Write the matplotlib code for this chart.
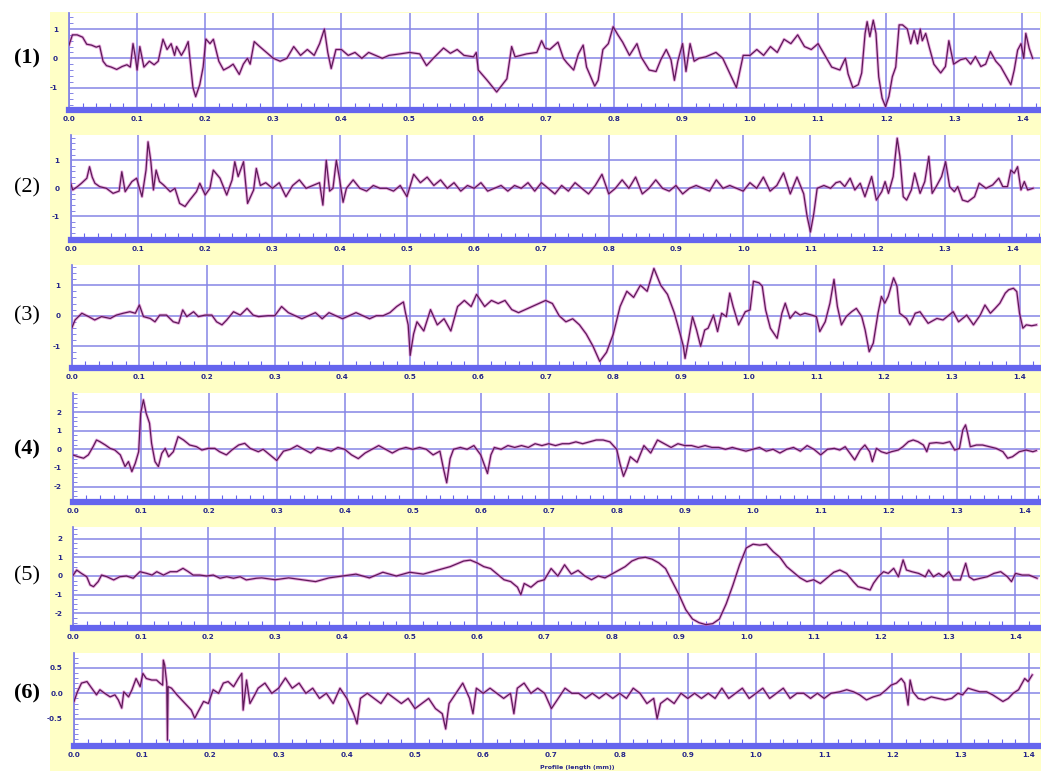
import matplotlib
matplotlib.use("Agg")
import matplotlib.pyplot as plt
from matplotlib.patches import Rectangle
from matplotlib.ticker import MultipleLocator, FixedLocator, FormatStrFormatter

W, H = 1041, 771

# ---- profile data (x in mm, height) ----
p1_x = [0.000, 0.005, 0.012, 0.020, 0.026, 0.033, 0.040, 0.045, 0.050, 0.055, 0.062, 0.070, 0.078, 0.085,
        0.090, 0.094, 0.097, 0.100, 0.104, 0.110, 0.118, 0.125, 0.131, 0.138, 0.144, 0.150, 0.155, 0.158,
        0.165, 0.170, 0.175, 0.178, 0.182, 0.186, 0.192, 0.197, 0.201, 0.207, 0.212, 0.220, 0.227, 0.235,
        0.241, 0.250, 0.256, 0.262, 0.266, 0.272, 0.280, 0.290, 0.300, 0.310, 0.320, 0.330, 0.340, 0.350,
        0.360, 0.368, 0.375, 0.380, 0.385, 0.392, 0.400, 0.410, 0.420, 0.430, 0.440, 0.450, 0.460, 0.470,
        0.486, 0.500, 0.515, 0.525, 0.535, 0.550, 0.560, 0.570, 0.580, 0.594, 0.598, 0.601, 0.614, 0.628,
        0.633, 0.643, 0.650, 0.655, 0.672, 0.687, 0.694, 0.699, 0.706, 0.718, 0.726, 0.731, 0.741, 0.748,
        0.755, 0.760, 0.772, 0.777, 0.784, 0.792, 0.799, 0.806, 0.813, 0.823, 0.834, 0.840, 0.852, 0.862,
        0.869, 0.877, 0.884, 0.889, 0.894, 0.901, 0.906, 0.912, 0.918, 0.925, 0.935, 0.950, 0.960, 0.970,
        0.980, 0.990, 1.000, 1.010, 1.020, 1.030, 1.040, 1.050, 1.060, 1.070, 1.080, 1.090, 1.100, 1.110,
        1.120, 1.132, 1.140, 1.144, 1.151, 1.159, 1.164, 1.169, 1.172, 1.176, 1.181, 1.185, 1.189, 1.194,
        1.199, 1.204, 1.209, 1.214, 1.219, 1.224, 1.231, 1.236, 1.241, 1.246, 1.250, 1.253, 1.258, 1.263,
        1.270, 1.280, 1.287, 1.292, 1.299, 1.309, 1.317, 1.324, 1.331, 1.339, 1.346, 1.353, 1.361, 1.368,
        1.375, 1.383, 1.388, 1.393, 1.398, 1.402, 1.405, 1.410, 1.415]
p1_y = [0.45, 0.80, 0.80, 0.72, 0.48, 0.45, 0.38, 0.42, -0.10, -0.25, -0.30, -0.38, -0.28, -0.22,
        -0.30, 0.50, 0.10, -0.40, 0.40, -0.30, -0.10, -0.22, -0.10, 0.65, 0.30, 0.50, 0.10, 0.40,
        0.10, 0.30, 0.57, -0.10, -1.00, -1.31, -0.90, -0.30, 0.66, 0.50, 0.65, -0.10, -0.40, -0.30,
        -0.20, -0.55, -0.20, 0.00, -0.20, 0.57, 0.40, 0.20, 0.00, -0.10, 0.00, 0.40, 0.10, 0.30,
        0.10, 0.50, 1.00, 0.20, -0.35, 0.30, 0.30, 0.10, 0.20, 0.00, 0.20, 0.10, 0.00, 0.10,
        0.15, 0.20, 0.15, -0.25, 0.00, 0.35, 0.17, 0.30, 0.10, 0.05, 0.20, -0.40, -0.75, -1.15,
        -1.00, -0.70, 0.40, 0.05, 0.15, 0.20, 0.60, 0.35, 0.30, 0.55, 0.00, -0.15, -0.40, 0.15,
        0.45, -0.30, -0.95, -0.75, 0.30, 0.50, 1.08, 0.80, 0.55, 0.10, 0.50, 0.05, -0.40, -0.45,
        -0.05, 0.30, -0.05, -0.75, -0.10, 0.50, -0.45, 0.50, -0.10, 0.00, 0.05, 0.20, 0.00, -0.50,
        -1.00, 0.10, 0.10, 0.30, 0.10, 0.40, 0.20, 0.65, 0.50, 0.80, 0.40, 0.30, 0.50, 0.10,
        -0.30, -0.40, 0.00, -0.53, -1.00, -0.90, -0.50, 0.85, 1.25, 0.74, 1.30, 0.85, -0.63, -1.36,
        -1.65, -1.30, -0.63, -0.30, 1.14, 1.14, 1.00, 0.50, 0.96, 0.50, 1.00, 0.60, 0.85, 0.40,
        -0.20, -0.50, -0.28, 0.60, -0.20, -0.05, 0.00, -0.20, 0.06, -0.28, -0.20, 0.23, -0.10, -0.28,
        -0.57, -0.90, -0.40, 0.28, 0.50, 0.00, 0.85, 0.34, 0.00]

p2_x = [0.000, 0.003, 0.010, 0.016, 0.024, 0.028, 0.032, 0.036, 0.043, 0.053, 0.063, 0.072, 0.076, 0.081,
        0.091, 0.098, 0.106, 0.112, 0.115, 0.119, 0.123, 0.127, 0.132, 0.138, 0.148, 0.155, 0.162, 0.170,
        0.177, 0.187, 0.192, 0.200, 0.207, 0.212, 0.222, 0.232, 0.240, 0.244, 0.249, 0.257, 0.263, 0.272,
        0.276, 0.282, 0.290, 0.300, 0.310, 0.320, 0.330, 0.340, 0.350, 0.360, 0.370, 0.375, 0.380, 0.385,
        0.390, 0.395, 0.400, 0.405, 0.410, 0.420, 0.430, 0.440, 0.450, 0.460, 0.470, 0.480, 0.490, 0.500,
        0.510, 0.520, 0.530, 0.540, 0.550, 0.560, 0.570, 0.580, 0.590, 0.600, 0.610, 0.620, 0.630, 0.640,
        0.650, 0.660, 0.670, 0.680, 0.690, 0.700, 0.710, 0.720, 0.730, 0.740, 0.750, 0.760, 0.770, 0.780,
        0.790, 0.800, 0.810, 0.820, 0.830, 0.840, 0.850, 0.860, 0.870, 0.880, 0.890, 0.900, 0.910, 0.920,
        0.930, 0.940, 0.950, 0.960, 0.970, 0.980, 0.990, 1.000, 1.010, 1.020, 1.030, 1.040, 1.050, 1.060,
        1.070, 1.080, 1.090, 1.095, 1.100, 1.105, 1.110, 1.120, 1.130, 1.138, 1.144, 1.151, 1.159, 1.166,
        1.174, 1.181, 1.191, 1.198, 1.206, 1.211, 1.216, 1.223, 1.229, 1.233, 1.238, 1.243, 1.250, 1.255,
        1.263, 1.270, 1.276, 1.281, 1.287, 1.295, 1.301, 1.307, 1.314, 1.319, 1.326, 1.334, 1.344, 1.351,
        1.361, 1.371, 1.380, 1.386, 1.393, 1.398, 1.403, 1.408, 1.413, 1.418, 1.423, 1.431]
p2_y = [0.18, -0.06, 0.06, 0.18, 0.36, 0.77, 0.40, 0.18, 0.06, 0.00, -0.18, -0.10, 0.59, -0.12,
        0.24, 0.36, -0.30, 0.65, 1.66, 1.00, -0.06, 0.65, 0.24, 0.12, -0.12, 0.00, -0.54, -0.65,
        -0.42, -0.12, 0.18, -0.24, 0.00, 0.65, 0.36, -0.24, 0.30, 0.95, 0.42, 0.95, -0.54, -0.06,
        0.71, 0.10, 0.20, 0.00, 0.20, -0.30, 0.10, 0.30, 0.00, 0.10, 0.20, -0.60, 1.00, -0.10,
        0.00, 1.00, 0.30, -0.50, 0.00, 0.30, 0.00, -0.10, 0.10, 0.00, 0.00, -0.10, 0.10, -0.30,
        0.50, 0.20, 0.40, 0.10, 0.30, 0.00, 0.20, -0.10, 0.10, 0.00, 0.20, -0.10, 0.00, 0.10,
        -0.10, 0.10, 0.00, 0.20, -0.10, 0.20, 0.00, -0.20, 0.10, -0.10, 0.20, 0.00, -0.20, 0.10,
        0.50, -0.20, 0.00, 0.30, 0.00, 0.40, -0.20, 0.00, 0.30, 0.00, -0.10, 0.10, -0.20, 0.00,
        0.10, 0.00, -0.10, 0.30, 0.00, 0.10, 0.00, -0.10, 0.20, 0.00, 0.40, -0.10, 0.10, 0.55,
        -0.20, 0.40, -0.20, -1.00, -1.56, -0.90, 0.00, 0.10, 0.00, 0.20, 0.24, 0.06, 0.36, -0.06,
        0.18, -0.30, 0.42, -0.42, -0.12, 0.24, -0.18, 0.42, 1.79, 1.14, -0.30, -0.42, -0.06, 0.54,
        -0.18, 0.24, 1.14, -0.18, 0.06, 0.42, 0.95, 0.06, -0.12, 0.06, -0.42, -0.48, -0.30, 0.18,
        0.00, 0.12, 0.36, 0.06, 0.06, 0.65, 0.54, 0.77, -0.06, 0.24, -0.06, 0.00]

p3_x = [0.000, 0.005, 0.015, 0.025, 0.034, 0.044, 0.057, 0.066, 0.076, 0.086, 0.094, 0.100, 0.106, 0.116,
        0.123, 0.130, 0.140, 0.150, 0.158, 0.164, 0.170, 0.180, 0.187, 0.197, 0.207, 0.214, 0.222, 0.229,
        0.239, 0.249, 0.259, 0.268, 0.276, 0.290, 0.300, 0.310, 0.320, 0.330, 0.340, 0.350, 0.360, 0.370,
        0.380, 0.390, 0.400, 0.410, 0.420, 0.430, 0.440, 0.450, 0.460, 0.470, 0.480, 0.490, 0.493, 0.497,
        0.500, 0.505, 0.510, 0.520, 0.530, 0.540, 0.550, 0.560, 0.570, 0.580, 0.590, 0.598, 0.610, 0.620,
        0.630, 0.640, 0.650, 0.660, 0.670, 0.680, 0.690, 0.700, 0.710, 0.720, 0.730, 0.740, 0.750, 0.760,
        0.770, 0.780, 0.790, 0.800, 0.810, 0.820, 0.830, 0.840, 0.850, 0.860, 0.870, 0.880, 0.890, 0.8985,
        0.9035, 0.906, 0.911, 0.917, 0.923, 0.929, 0.935, 0.940, 0.948, 0.954, 0.960, 0.967, 0.972, 0.977,
        0.985, 0.995, 1.002, 1.007, 1.015, 1.020, 1.025, 1.032, 1.042, 1.049, 1.054, 1.061, 1.069, 1.076,
        1.083, 1.093, 1.100, 1.105, 1.113, 1.120, 1.126, 1.131, 1.137, 1.144, 1.152, 1.159, 1.167, 1.172,
        1.178, 1.184, 1.191, 1.196, 1.201, 1.206, 1.214, 1.219, 1.223, 1.233, 1.238, 1.246, 1.253, 1.265,
        1.278, 1.287, 1.302, 1.310, 1.322, 1.332, 1.342, 1.349, 1.357, 1.364, 1.371, 1.379, 1.384, 1.391,
        1.396, 1.400, 1.405, 1.410, 1.418, 1.425]
p3_y = [-0.41, -0.14, 0.08, -0.03, -0.14, -0.03, -0.09, 0.02, 0.08, 0.13, 0.08, 0.35, -0.03, -0.09,
        -0.20, 0.02, 0.02, -0.20, -0.25, 0.19, -0.03, 0.13, -0.03, 0.02, 0.02, -0.20, -0.30, -0.14,
        0.13, 0.02, 0.24, 0.02, -0.03, 0.00, 0.00, 0.30, 0.10, 0.00, -0.10, 0.00, 0.10, -0.10,
        0.10, 0.00, -0.10, 0.00, 0.10, 0.00, -0.10, 0.00, 0.00, 0.10, 0.30, 0.45, 0.10, -0.30,
        -1.30, -0.60, -0.20, -0.50, 0.20, -0.30, -0.10, -0.50, 0.30, 0.50, 0.30, 0.70, 0.30, 0.50,
        0.40, 0.50, 0.20, 0.10, 0.20, 0.30, 0.40, 0.50, 0.40, 0.00, -0.20, -0.10, -0.30, -0.60,
        -1.00, -1.50, -1.20, -0.60, 0.30, 0.80, 0.60, 1.00, 0.80, 1.55, 1.00, 0.70, 0.10, -0.58,
        -1.00, -1.40, -0.80, -0.03, -0.47, -1.00, -0.47, -0.41, 0.02, -0.52, 0.08, -0.03, 0.74, 0.30,
        -0.30, 0.13, 0.19, 1.13, 1.08, 0.97, 0.19, -0.41, -0.74, 0.08, 0.41, -0.09, 0.13, 0.02,
        0.08, 0.02, -0.03, -0.52, -0.20, 0.41, 1.19, 0.30, -0.30, -0.03, 0.13, 0.24, -0.03, -0.47,
        -1.18, -0.90, 0.08, 0.63, 0.41, 0.63, 1.24, 0.97, 0.08, -0.09, -0.30, 0.08, 0.13, -0.25,
        -0.09, -0.14, 0.13, -0.20, 0.02, -0.30, 0.02, 0.35, 0.08, 0.24, 0.41, 0.74, 0.85, 0.90,
        0.79, 0.08, -0.41, -0.30, -0.33, -0.30]

p4_x = [0.000, 0.008, 0.016, 0.023, 0.030, 0.035, 0.040, 0.048, 0.055, 0.062, 0.070, 0.077, 0.082, 0.087,
        0.092, 0.097, 0.100, 0.104, 0.108, 0.113, 0.116, 0.121, 0.126, 0.131, 0.136, 0.141, 0.148, 0.155,
        0.163, 0.172, 0.182, 0.190, 0.199, 0.209, 0.216, 0.226, 0.234, 0.244, 0.253, 0.261, 0.273, 0.280,
        0.290, 0.300, 0.310, 0.320, 0.330, 0.340, 0.350, 0.360, 0.370, 0.380, 0.390, 0.400, 0.410, 0.420,
        0.430, 0.440, 0.450, 0.460, 0.470, 0.480, 0.490, 0.500, 0.510, 0.520, 0.530, 0.540, 0.545, 0.550,
        0.555, 0.560, 0.570, 0.580, 0.590, 0.600, 0.605, 0.610, 0.615, 0.620, 0.630, 0.640, 0.650, 0.660,
        0.670, 0.680, 0.690, 0.700, 0.710, 0.720, 0.730, 0.740, 0.750, 0.760, 0.770, 0.780, 0.790, 0.800,
        0.805, 0.810, 0.815, 0.820, 0.830, 0.840, 0.850, 0.860, 0.870, 0.880, 0.890, 0.900, 0.910, 0.920,
        0.930, 0.940, 0.950, 0.960, 0.970, 0.980, 0.990, 1.000, 1.010, 1.020, 1.030, 1.040, 1.050, 1.060,
        1.070, 1.080, 1.090, 1.100, 1.110, 1.120, 1.128, 1.136, 1.143, 1.150, 1.158, 1.165, 1.172, 1.176,
        1.182, 1.189, 1.197, 1.204, 1.214, 1.221, 1.229, 1.236, 1.243, 1.251, 1.256, 1.260, 1.270, 1.280,
        1.290, 1.297, 1.304, 1.309, 1.313, 1.316, 1.320, 1.329, 1.338, 1.348, 1.358, 1.368, 1.375, 1.382,
        1.392, 1.402, 1.412, 1.417]
p4_y = [-0.30, -0.40, -0.48, -0.30, 0.14, 0.50, 0.41, 0.23, 0.05, -0.04, -0.30, -0.93, -0.66, -1.20,
        -0.75, -0.13, 1.94, 2.66, 1.94, 1.40, 0.32, -0.66, -0.93, -0.22, 0.05, -0.40, -0.13, 0.68,
        0.50, 0.23, 0.14, -0.04, 0.05, 0.05, -0.13, -0.30, -0.04, 0.23, 0.32, 0.05, -0.13, 0.00,
        -0.30, -0.60, -0.10, 0.00, 0.20, 0.00, -0.20, 0.10, 0.00, -0.10, 0.10, 0.00, -0.30, -0.50,
        -0.20, 0.00, 0.20, 0.00, -0.20, 0.00, 0.10, 0.00, 0.10, 0.00, -0.30, -0.10, -1.00, -1.80,
        -0.50, 0.00, 0.10, 0.00, 0.20, -0.30, -0.80, -1.30, -0.30, 0.10, 0.00, 0.20, 0.10, 0.20,
        0.10, 0.30, 0.20, 0.30, 0.20, 0.30, 0.30, 0.40, 0.30, 0.40, 0.50, 0.50, 0.40, 0.00,
        -0.80, -1.45, -1.00, -0.40, -0.70, 0.20, -0.20, 0.50, 0.30, 0.10, 0.30, 0.20, 0.20, 0.10,
        0.20, 0.10, 0.10, 0.00, 0.10, 0.00, -0.10, 0.00, 0.10, -0.10, 0.00, -0.20, 0.00, 0.10,
        -0.10, 0.20, 0.00, -0.30, 0.00, 0.05, -0.04, 0.14, -0.22, -0.57, -0.04, 0.23, -0.13, -0.66,
        0.05, -0.13, -0.22, -0.13, -0.04, 0.14, 0.41, 0.50, 0.41, 0.23, -0.13, 0.32, 0.36, 0.32,
        0.41, -0.04, 0.05, 1.04, 1.31, 0.86, 0.14, 0.23, 0.23, 0.14, 0.05, -0.13, -0.48, -0.40,
        -0.13, -0.04, -0.13, -0.07]

p5_x = [0.000, 0.005, 0.012, 0.020, 0.025, 0.030, 0.037, 0.042, 0.050, 0.060, 0.069, 0.079, 0.089, 0.099,
        0.109, 0.117, 0.124, 0.134, 0.144, 0.154, 0.163, 0.171, 0.178, 0.188, 0.198, 0.208, 0.218, 0.228,
        0.238, 0.248, 0.257, 0.272, 0.280, 0.300, 0.320, 0.340, 0.360, 0.380, 0.400, 0.420, 0.440, 0.460,
        0.480, 0.500, 0.520, 0.540, 0.560, 0.580, 0.590, 0.600, 0.610, 0.620, 0.630, 0.640, 0.650, 0.660,
        0.665, 0.670, 0.680, 0.690, 0.700, 0.710, 0.720, 0.730, 0.740, 0.750, 0.760, 0.770, 0.780, 0.790,
        0.800, 0.810, 0.820, 0.830, 0.840, 0.850, 0.860, 0.870, 0.880, 0.890, 0.900, 0.910, 0.920, 0.930,
        0.940, 0.950, 0.960, 0.970, 0.980, 0.990, 1.000, 1.010, 1.020, 1.030, 1.040, 1.050, 1.060, 1.070,
        1.080, 1.090, 1.100, 1.110, 1.120, 1.130, 1.139, 1.149, 1.159, 1.166, 1.176, 1.184, 1.189, 1.196,
        1.204, 1.211, 1.219, 1.226, 1.233, 1.238, 1.246, 1.256, 1.266, 1.271, 1.278, 1.286, 1.293, 1.301,
        1.308, 1.318, 1.326, 1.331, 1.338, 1.348, 1.358, 1.368, 1.378, 1.388, 1.394, 1.400, 1.410, 1.420,
        1.432]
p5_y = [0.05, 0.32, 0.14, -0.04, -0.48, -0.57, -0.30, 0.05, -0.04, -0.21, -0.04, 0.00, -0.12, 0.23,
        0.14, 0.05, 0.23, 0.05, 0.23, 0.23, 0.41, 0.23, 0.05, 0.05, 0.00, 0.05, -0.12, -0.04,
        -0.12, -0.04, -0.21, -0.12, -0.10, -0.20, -0.10, -0.20, -0.30, -0.10, 0.00, 0.10, -0.10, 0.20,
        0.00, 0.20, 0.10, 0.30, 0.50, 0.80, 0.85, 0.70, 0.50, 0.40, 0.10, -0.20, -0.30, -0.60,
        -1.00, -0.40, -0.60, -0.30, -0.20, 0.40, 0.00, 0.60, 0.10, 0.30, 0.00, -0.20, 0.00, -0.10,
        0.10, 0.30, 0.50, 0.80, 0.95, 1.00, 0.90, 0.70, 0.40, -0.30, -1.00, -1.80, -2.30, -2.50,
        -2.60, -2.55, -2.30, -1.50, -0.50, 0.60, 1.50, 1.70, 1.65, 1.70, 1.30, 1.00, 0.50, 0.20,
        -0.10, -0.30, -0.20, -0.40, -0.10, 0.20, 0.32, 0.14, -0.30, -0.57, -0.66, -0.75, -0.39, -0.04,
        0.23, 0.14, 0.41, -0.04, 0.86, 0.32, 0.23, 0.14, -0.04, 0.32, -0.04, 0.14, -0.04, 0.23,
        -0.21, -0.21, 0.68, -0.04, -0.21, -0.12, -0.04, 0.14, 0.23, -0.04, -0.30, 0.14, 0.05, 0.05,
        -0.12]

p6_x = [0.000, 0.005, 0.011, 0.019, 0.026, 0.033, 0.038, 0.045, 0.053, 0.060, 0.065, 0.070, 0.073, 0.080,
        0.085, 0.091, 0.097, 0.101, 0.106, 0.114, 0.121, 0.126, 0.130, 0.131, 0.133, 0.136, 0.137, 0.138,
        0.143, 0.151, 0.158, 0.165, 0.172, 0.177, 0.182, 0.190, 0.197, 0.204, 0.212, 0.219, 0.226, 0.234,
        0.241, 0.246, 0.248, 0.253, 0.258, 0.265, 0.270, 0.280, 0.290, 0.300, 0.310, 0.320, 0.330, 0.340,
        0.350, 0.360, 0.370, 0.380, 0.390, 0.400, 0.410, 0.415, 0.420, 0.430, 0.440, 0.450, 0.460, 0.470,
        0.480, 0.490, 0.500, 0.510, 0.520, 0.530, 0.540, 0.545, 0.550, 0.560, 0.570, 0.580, 0.585, 0.590,
        0.600, 0.610, 0.620, 0.630, 0.640, 0.645, 0.650, 0.660, 0.670, 0.680, 0.690, 0.700, 0.710, 0.720,
        0.730, 0.740, 0.750, 0.760, 0.770, 0.780, 0.790, 0.800, 0.810, 0.820, 0.830, 0.840, 0.850, 0.855,
        0.860, 0.870, 0.880, 0.890, 0.900, 0.910, 0.920, 0.930, 0.940, 0.950, 0.960, 0.970, 0.980, 0.990,
        1.000, 1.010, 1.020, 1.030, 1.040, 1.050, 1.060, 1.070, 1.080, 1.090, 1.100, 1.110, 1.123, 1.133,
        1.143, 1.152, 1.162, 1.172, 1.182, 1.191, 1.198, 1.206, 1.213, 1.218, 1.223, 1.226, 1.230, 1.238,
        1.247, 1.257, 1.267, 1.277, 1.287, 1.296, 1.303, 1.311, 1.318, 1.328, 1.338, 1.347, 1.355, 1.362,
        1.370, 1.377, 1.385, 1.394, 1.399, 1.405]
p6_y = [-0.16, 0.03, 0.20, 0.23, 0.10, -0.03, 0.07, 0.00, -0.07, -0.03, -0.13, -0.29, 0.03, -0.07,
        0.07, 0.29, 0.13, 0.39, 0.29, 0.26, 0.26, 0.20, 0.16, 0.65, 0.55, 0.20, -0.92, 0.13,
        0.10, -0.03, -0.13, -0.23, -0.33, -0.49, -0.36, -0.16, -0.20, 0.07, 0.00, 0.20, 0.23, 0.13,
        0.29, 0.39, -0.33, 0.26, -0.20, -0.03, 0.10, 0.20, 0.00, 0.10, 0.30, 0.10, 0.20, 0.00,
        0.10, -0.10, 0.00, -0.20, 0.10, -0.10, -0.40, -0.60, -0.10, 0.00, -0.10, -0.20, 0.00, -0.10,
        -0.20, -0.10, -0.30, -0.20, -0.10, -0.30, -0.40, -0.70, -0.20, 0.00, 0.20, -0.10, -0.40, 0.10,
        0.00, 0.10, 0.00, -0.10, 0.00, -0.40, 0.10, 0.20, 0.00, 0.10, 0.00, -0.30, -0.10, 0.10,
        0.00, 0.00, -0.10, 0.00, -0.10, 0.00, -0.10, 0.00, -0.10, 0.10, 0.00, -0.20, -0.10, -0.50,
        -0.20, -0.10, -0.20, 0.00, -0.10, 0.00, -0.10, 0.00, -0.10, 0.10, -0.10, 0.00, 0.10, -0.10,
        0.00, 0.10, -0.10, 0.00, 0.10, -0.10, 0.00, 0.00, -0.10, 0.00, -0.10, 0.00, 0.03, 0.07,
        0.03, -0.03, -0.13, -0.07, -0.03, 0.07, 0.16, 0.20, 0.29, 0.20, -0.23, 0.26, 0.03, -0.10,
        -0.13, -0.07, -0.10, -0.13, -0.10, 0.00, -0.03, 0.10, 0.07, 0.03, 0.03, -0.03, -0.10, -0.16,
        -0.10, 0.00, 0.07, 0.29, 0.23, 0.36]

profiles = [(p1_x, p1_y), (p2_x, p2_y), (p3_x, p3_y), (p4_x, p4_y), (p5_x, p5_y), (p6_x, p6_y)]
labels = ["(1)", "(2)", "(3)", "(4)", "(5)", "(6)"]
label_bold = [True, False, False, True, False, True]
y_ticks = [[-1, 0, 1], [-1, 0, 1], [-1, 0, 1], [-2, -1, 0, 1, 2], [-2, -1, 0, 1, 2], [-0.5, 0.0, 0.5]]
y_minor = [0.2, 0.2, 0.2, 0.25, 0.25, 0.1]
y_fmt = ["%d", "%d", "%d", "%d", "%d", "%.1f"]

# panel geometry in pixels: y-axis x, px per 0.1 mm, top, bottom bar, zero line, px per unit
panels = [(69.0, 68.1, 13, 110, 58.3, 29.3),
          (70.7, 67.25, 135, 240, 188.3, 28.0),
          (71.7, 67.7, 265, 368, 315.7, 30.5),
          (72.7, 68.0, 393, 502, 449.3, 18.6),
          (73.3, 67.3, 527, 628, 576.0, 18.7),
          (74.0, 68.2, 653, 746, 693.3, 51.0)]

GRID = "#8585e6"
BAR = "#6565ee"
TXT = "#26268a"
YELLOW = "#ffffc6"

fig = plt.figure(figsize=(W / 100, H / 100), dpi=100)
fig.patch.set_facecolor("white")
fig.add_artist(Rectangle((50 / W, 0), 1 - 50 / W, 1 - 12 / H, transform=fig.transFigure,
                         facecolor=YELLOW, edgecolor="none", zorder=0))

right_px = 1040
for i, (x0, sc, top, bar, zero, unit) in enumerate(panels):
    ax = fig.add_axes([x0 / W, 1 - bar / H, (right_px - x0) / W, (bar - top) / H])
    ax.set_facecolor("white")
    ax.set_xlim(0, (right_px - x0) / sc * 0.1)
    ax.set_ylim(-(bar - zero) / unit, (zero - top) / unit)

    xs, ys = profiles[i]
    ax.plot(xs, ys, color="#d865c8", lw=2.2, alpha=0.55, zorder=3)
    ax.plot(xs, ys, color="#5e1a58", lw=0.9, zorder=4)

    ax.xaxis.set_major_locator(MultipleLocator(0.1))
    ax.xaxis.set_minor_locator(MultipleLocator(0.02))
    ax.xaxis.set_major_formatter(FormatStrFormatter("%.1f"))
    ax.yaxis.set_major_locator(FixedLocator(y_ticks[i]))
    ax.yaxis.set_minor_locator(MultipleLocator(y_minor[i]))
    ax.yaxis.set_major_formatter(FormatStrFormatter(y_fmt[i]))

    ax.grid(True, which="major", color=GRID, lw=1.1)
    ax.set_axisbelow(True)

    for s in ["top", "right"]:
        ax.spines[s].set_visible(False)
    ax.spines["bottom"].set_color(BAR)
    ax.spines["bottom"].set_linewidth(4.5)
    ax.spines["left"].set_color(GRID)
    ax.spines["left"].set_linewidth(1.3)

    ax.tick_params(axis="x", which="major", length=0, pad=4.5, labelsize=5.2, labelcolor=TXT)
    ax.tick_params(axis="x", which="minor", direction="in", length=5, width=0.8, color=BAR)
    ax.tick_params(axis="y", which="major", length=0, pad=8, labelsize=5.2, labelcolor=TXT)
    ax.tick_params(axis="y", which="minor", direction="in", length=3, width=0.7, color=GRID)
    for t in ax.get_xticklabels() + ax.get_yticklabels():
        t.set_fontweight("bold")

    fig.text(27 / W, 1 - zero / H, labels[i], ha="center", va="center", fontsize=16,
             family="Liberation Serif", fontweight="bold" if label_bold[i] else "normal")

fig.text(577 / W, 1 - 767 / H, "Profile (length (mm))", ha="center", va="center",
         fontsize=4.5, fontweight="bold", color=TXT)

fig.savefig("out.png", dpi=100)
